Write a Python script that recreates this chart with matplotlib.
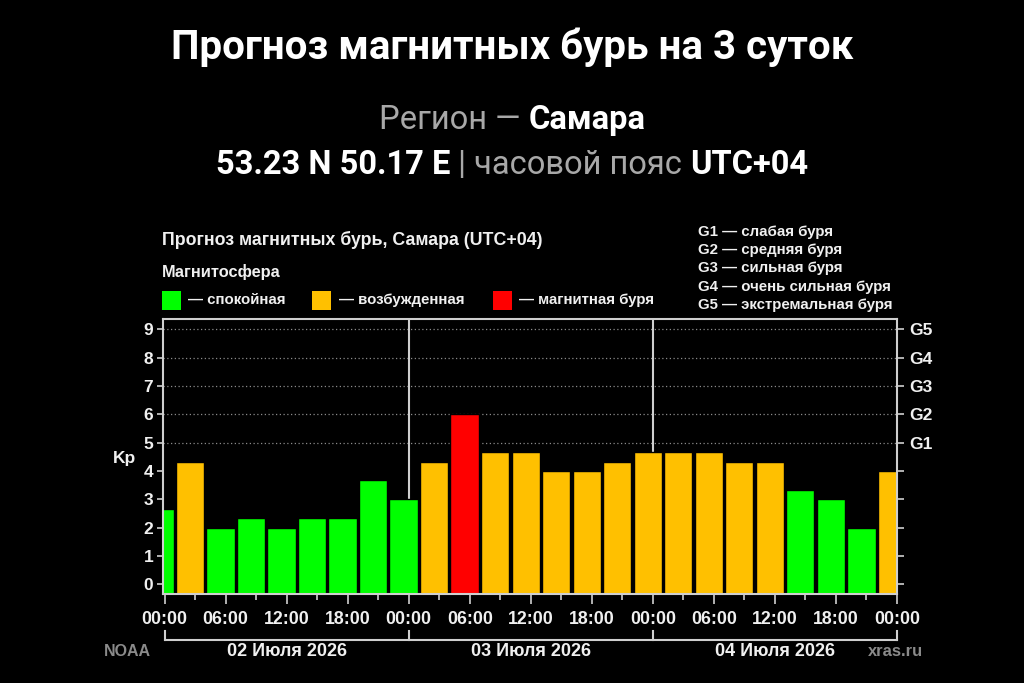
import matplotlib
matplotlib.use("Agg")
import matplotlib.pyplot as plt
from matplotlib.patches import Rectangle
from matplotlib.transforms import blended_transform_factory
import numpy as np

# ---------------- data ----------------
bar_start_hours = [-2 + 3 * k for k in range(25)]  # local time (UTC+04), 3-hour bins
kp_values = [2.67, 4.33, 2, 2.33, 2, 2.33, 2.33, 3.67, 3,
             4.33, 6, 4.67, 4.67, 4, 4, 4.33, 4.67,
             4.67, 4.67, 4.33, 4.33, 3.33, 3, 2, 4]
x_tick_hours = list(range(0, 73, 6))
x_tick_labels = ["00:00", "06:00", "12:00", "18:00"] * 3 + ["00:00"]
day_labels = ["02 Июля 2026", "03 Июля 2026", "04 Июля 2026"]
g_labels = ["G1", "G2", "G3", "G4", "G5"]
g_legend = ["G1 — слабая буря", "G2 — средняя буря", "G3 — сильная буря",
            "G4 — очень сильная буря", "G5 — экстремальная буря"]
state_labels = ["— спокойная", "— возбужденная", "— магнитная буря"]

GREEN, ORANGE, RED = "#00ff00", "#ffc000", "#ff0000"
state_colors = [GREEN, ORANGE, RED]
WHITE = "#f0f0f0"
GRAY = "#a8a8a8"
AX = "#cfcfcf"

def color_for(v):
    if v >= 5:
        return RED
    if v >= 4:
        return ORANGE
    return GREEN

W, H = 1024, 683
fig = plt.figure(figsize=(W / 100, H / 100), dpi=100, facecolor="black")
SANS = ["Liberation Sans", "DejaVu Sans"]
TITLEF = ["Roboto", "DejaVu Sans"]

def fy(px):
    return 1 - px / H

def fx(px):
    return px / W

# ---------------- header ----------------
fig.text(0.5, fy(47), "Прогноз магнитных бурь на 3 суток", ha="center", va="center",
         color="white", fontsize=29, fontweight="bold", family=TITLEF)

renderer = fig.canvas.get_renderer()

def rich_line(y_px, parts, size):
    texts = []
    for s, col, wt in parts:
        t = fig.text(0, fy(y_px), s, ha="left", va="center", color=col,
                     fontsize=size, fontweight=wt, family=TITLEF)
        texts.append(t)
    widths = [t.get_window_extent(renderer).width for t in texts]
    total = sum(widths)
    x = W / 2 - total / 2
    for t, w in zip(texts, widths):
        t.set_x(x / W)
        x += w

rich_line(120, [("Регион — ", GRAY, "normal"), ("Самара", "white", "bold")], 23.5)
rich_line(165, [("53.23 N 50.17 E", "white", "bold"),
                (" | часовой пояс ", GRAY, "normal"),
                ("UTC+04", "white", "bold")], 23.5)

# ---------------- chart legend area ----------------
fig.text(fx(162), fy(240), "Прогноз магнитных бурь, Самара (UTC+04)", ha="left", va="center",
         color=WHITE, fontsize=12.8, fontweight="bold", family=SANS)
fig.text(fx(162), fy(272), "Магнитосфера", ha="left", va="center",
         color=WHITE, fontsize=11.8, fontweight="bold", family=SANS)
sq_x = [162, 312, 493]
tx_x = [188, 339, 519]
for c, lab, sx, tx in zip(state_colors, state_labels, sq_x, tx_x):
    fig.patches.append(Rectangle((fx(sx), fy(310)), 19 / W, 19 / H, facecolor=c,
                                 edgecolor="none", transform=fig.transFigure, figure=fig))
    fig.text(fx(tx), fy(300), lab, ha="left", va="center", color=WHITE,
             fontsize=10.8, fontweight="bold", family=SANS)

for i, lab in enumerate(g_legend):
    fig.text(fx(698), fy(232 + 18.2 * i), lab, ha="left", va="center", color=WHITE,
             fontsize=10.8, fontweight="bold", family=SANS)

# ---------------- axes ----------------
ax = fig.add_axes([fx(163), fy(594), (897 - 163) / W, (594 - 319) / H])
ax.set_facecolor("black")
ymin, ymax = -0.34, 9.37
ax.set_xlim(-0.15, 72)
ax.set_ylim(ymin, ymax)

for v in range(5, 10):
    ax.axhline(v, color="#8a8a8a", lw=0.9, ls=(0, (1, 2)), zorder=1)
for d in (24, 48):
    ax.axvline(d, color=AX, lw=1.5, zorder=1)

centers = [s + 1.5 for s in bar_start_hours]
heights = [v - ymin for v in kp_values]
ax.bar(centers, heights, bottom=ymin, width=2.78, color=[color_for(v) for v in kp_values],
       edgecolor="black", linewidth=1.0, zorder=2)

for sp in ax.spines.values():
    sp.set_color(AX)
    sp.set_linewidth(1.5)

ax.set_xticks(x_tick_hours)
ax.set_xticklabels(x_tick_labels)
ax.set_xticks(list(range(3, 72, 6)), minor=True)
ax.tick_params(axis="x", which="major", length=7, width=1.2, color=AX, pad=5,
               labelcolor=WHITE, labelsize=12.8)
ax.tick_params(axis="x", which="minor", length=4, width=1.2, color=AX)
ax.set_yticks(range(0, 10))
ax.tick_params(axis="y", which="major", length=4, width=1.2, color=AX, pad=3,
               labelcolor=WHITE, labelsize=12.5)
for lab in ax.get_xticklabels() + ax.get_yticklabels():
    lab.set_fontweight("bold")
    lab.set_family(SANS)

ax2 = ax.twinx()
ax2.set_ylim(ymin, ymax)
ax2.set_yticks(range(0, 10))
ax2.set_yticklabels([""] * 5 + g_labels)
ax2.tick_params(axis="y", length=5, width=1.2, color=AX, pad=4, labelcolor=WHITE, labelsize=12.5)
for lab in ax2.get_yticklabels():
    lab.set_fontweight("bold")
    lab.set_family(SANS)
for sp in ax2.spines.values():
    sp.set_visible(False)

fig.text(fx(124), fy(459), "Kp", ha="center", va="center", color=WHITE,
         fontsize=12.5, fontweight="bold", family=SANS)

# ---------------- day bracket ----------------
bt = blended_transform_factory(ax.transData, fig.transFigure)
ax.plot([0, 72], [fy(640), fy(640)], color=AX, lw=1.5, transform=bt, clip_on=False)
for d in (0, 24, 48, 72):
    ax.plot([d, d], [fy(631), fy(640)], color=AX, lw=1.5, transform=bt, clip_on=False)
for i, lab in enumerate(day_labels):
    ax.text(12 + 24 * i, fy(652), lab, ha="center", va="center", color=WHITE,
            fontsize=13, fontweight="bold", family=SANS, transform=bt)

fig.text(fx(127), fy(652), "NOAA", ha="center", va="center", color="#8a8a8a",
         fontsize=11.5, fontweight="bold", family=SANS)
fig.text(fx(895), fy(652), "xras.ru", ha="center", va="center", color="#8a8a8a",
         fontsize=11.9, fontweight="bold", family=SANS)

fig.savefig("out.png", dpi=100, facecolor="black")
